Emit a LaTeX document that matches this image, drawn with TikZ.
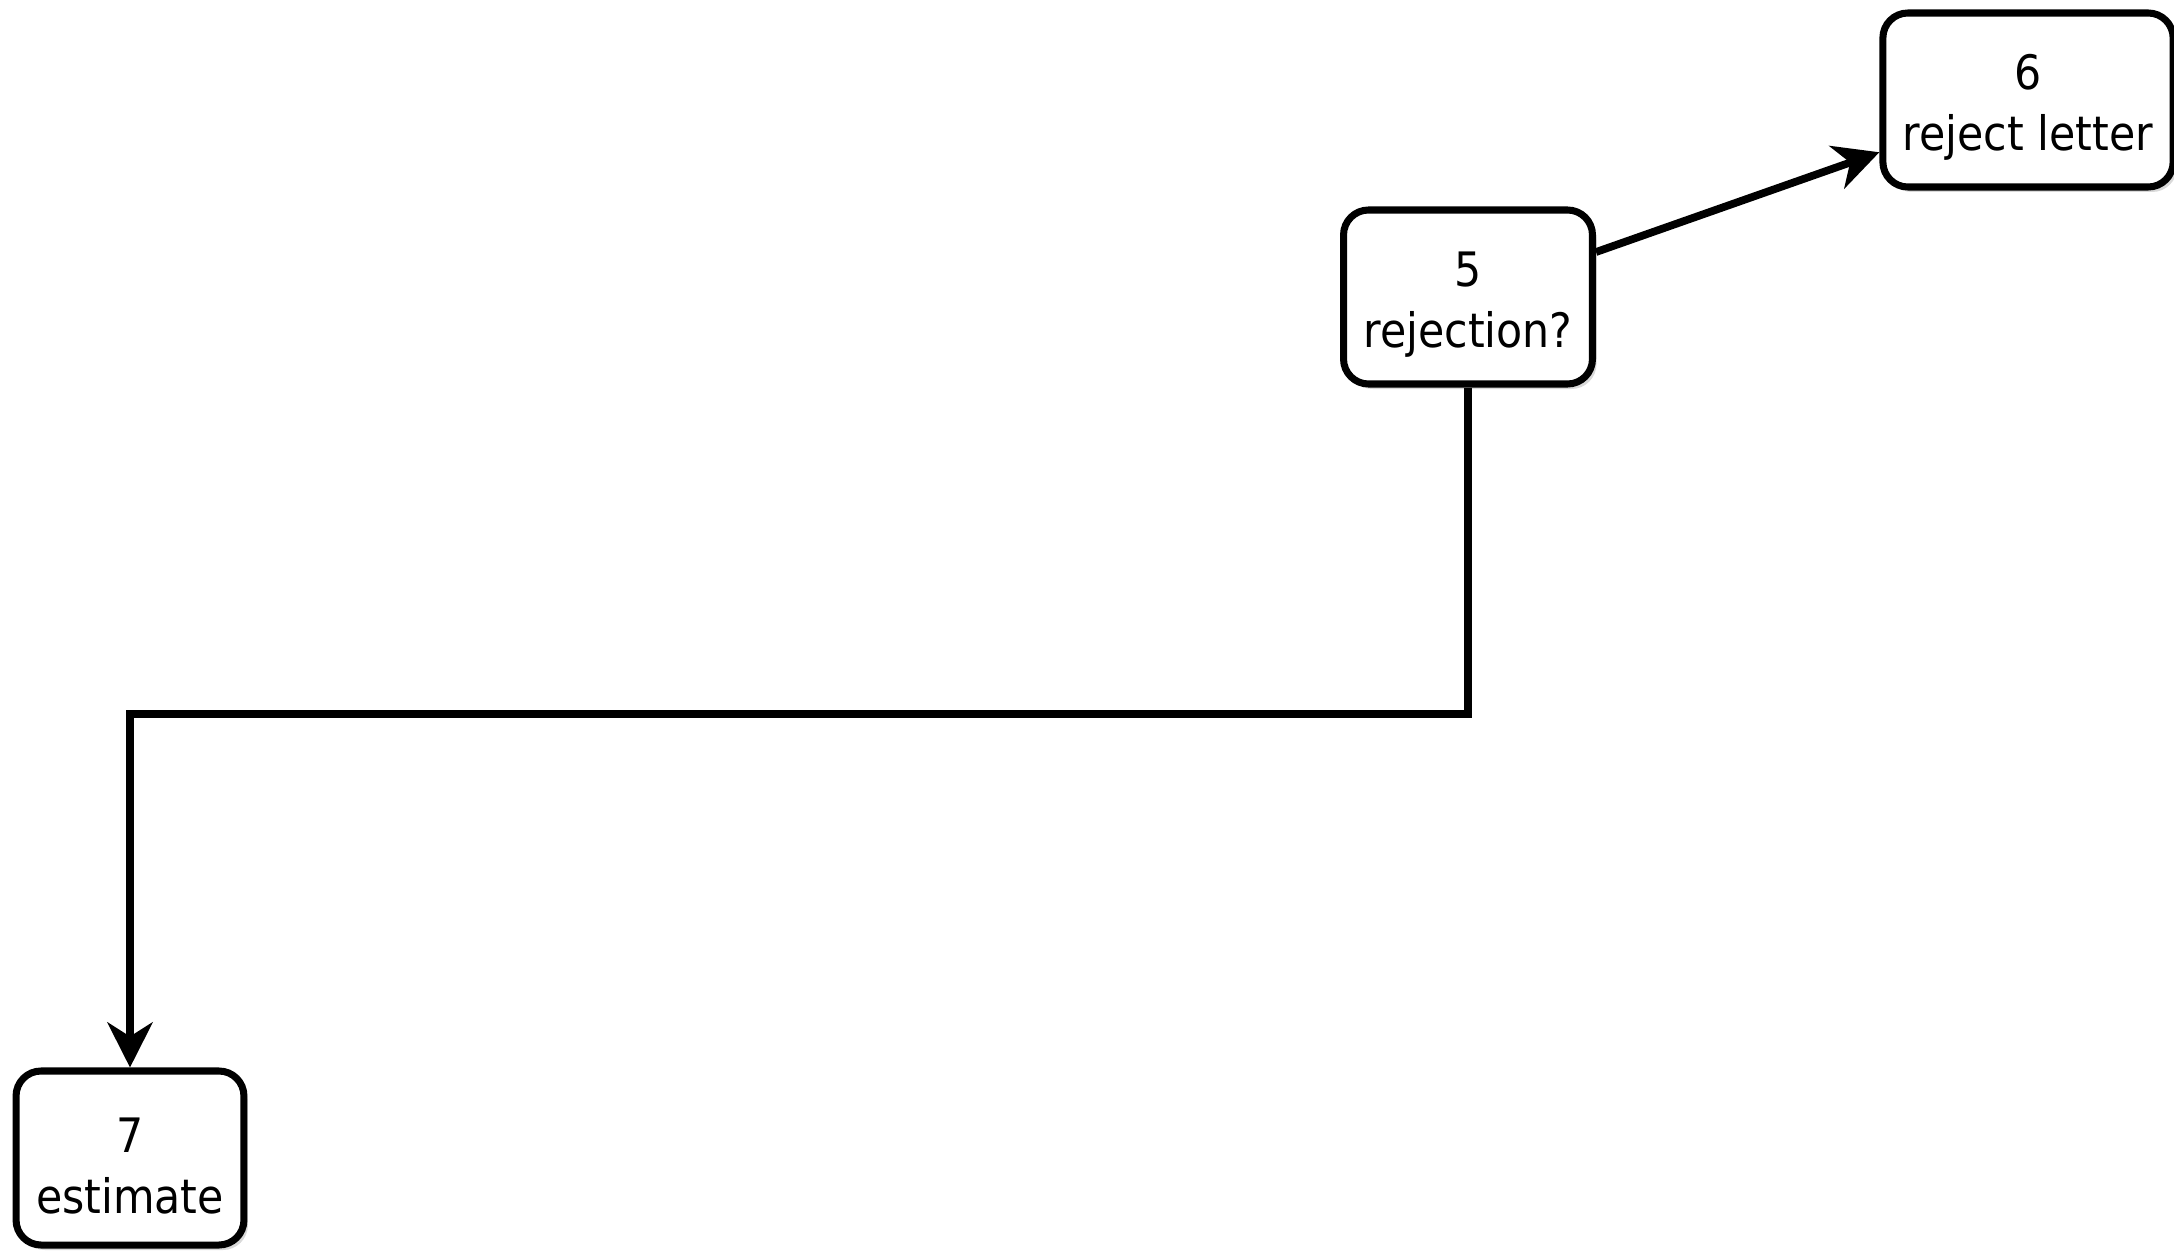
\documentclass[tikz,border=0pt]{standalone}
\usepackage{fontspec}
\setmainfont{DejaVu Sans}[FakeStretch=0.9]
\usetikzlibrary{arrows.meta,shadows}
\newcommand{\boxlbl}[2]{\rule{0pt}{0.50cm}#1\\#2}

\begin{document}
\begin{tikzpicture}[
  box/.style={draw, line width=2pt, rounded corners=0.25cm, fill=white, align=center,
    minimum height=1.74cm, inner xsep=0.2cm, font=\fontsize{13.5}{17.3}\selectfont,
    drop shadow={shadow xshift=0.04cm, shadow yshift=-0.05cm, opacity=0.3}},
  link/.style={line width=2.2pt, -{Stealth[length=0.45cm,width=0.45cm,inset=0.14cm]}}]
  \useasboundingbox (0,0) rectangle (21.74,-12.5);
  \node[box] (rej) at (14.68,-2.97) {\boxlbl{5}{rejection?}};
  \node[box] (letter) at (20.28,-1.00) {\boxlbl{6}{reject letter}};
  \node[box] (est) at (1.30,-11.58) {\boxlbl{7}{estimate}};
  \coordinate (turn) at (14.68,-7.14);
  \draw[link] (rej) -- (letter);
  \draw[link] (rej) -- (turn) -| (est);
\end{tikzpicture}
\end{document}
